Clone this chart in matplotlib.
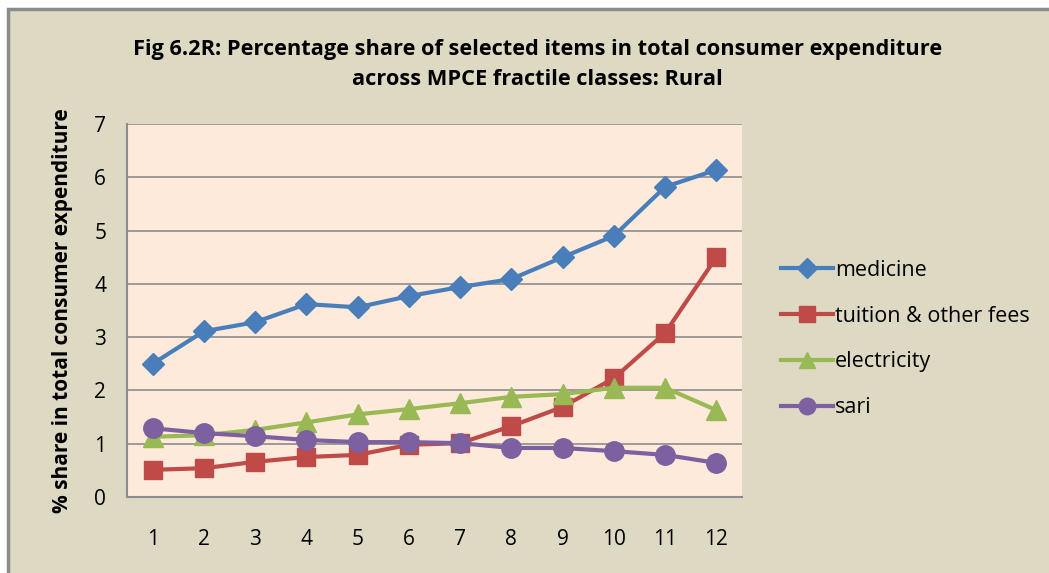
import matplotlib
matplotlib.use("Agg")
import matplotlib.pyplot as plt
from matplotlib.patches import Rectangle

plt.rcParams['font.family'] = ['Open Sans', 'DejaVu Sans']

# MPCE fractile classes
classes = [1, 2, 3, 4, 5, 6, 7, 8, 9, 10, 11, 12]

# % share in total consumer expenditure
medicine = [2.50, 3.11, 3.28, 3.62, 3.56, 3.77, 3.94, 4.09, 4.50, 4.90, 5.82, 6.14]
tuition = [0.51, 0.54, 0.66, 0.75, 0.79, 0.98, 1.01, 1.33, 1.69, 2.23, 3.08, 4.50]
electricity = [1.13, 1.16, 1.26, 1.40, 1.55, 1.65, 1.76, 1.88, 1.93, 2.05, 2.05, 1.63]
sari = [1.29, 1.20, 1.14, 1.07, 1.03, 1.03, 1.01, 0.92, 0.92, 0.86, 0.79, 0.64]

fig = plt.figure(figsize=(10.49, 5.73), dpi=100)
fig.patch.set_facecolor('white')
# chart area frame (Excel style), runs past the right and bottom edge
fig.patches.append(Rectangle((8 / 1049, -0.05), 1.1, 1 - 9 / 573 + 0.05,
                             transform=fig.transFigure, facecolor='#DDD9C3',
                             edgecolor='#8C8C8C', linewidth=2.5, zorder=-10))

ax = fig.add_axes([127 / 1049, 76 / 573, 615 / 1049, 373 / 573])
ax.set_facecolor('#FDEADA')

ax.plot(classes, medicine, color='#4A7EBB', lw=3, marker='D', ms=11.5, label='medicine')
ax.plot(classes, tuition, color='#BE4B48', lw=3, marker='s', ms=13, label='tuition & other fees')
ax.plot(classes, electricity, color='#98B954', lw=3, marker='^', ms=14, label='electricity')
ax.plot(classes, sari, color='#7D60A0', lw=3, marker='o', ms=14, label='sari')

ax.set_xlim(0.5, 12.5)
ax.set_ylim(0, 7)
ax.set_xticks(classes)
ax.set_yticks(range(0, 8))
ax.tick_params(length=0, labelsize=15)
ax.tick_params(axis='x', pad=23)
ax.tick_params(axis='y', pad=15)
ax.yaxis.grid(True, color='#8C8C8C', lw=1.2)
ax.set_axisbelow(True)
for s in ['top', 'right']:
    ax.spines[s].set_visible(False)
for s in ['left', 'bottom']:
    ax.spines[s].set_color('#8C8C8C')
    ax.spines[s].set_linewidth(1.5)

ax.set_ylabel('% share in total consumer expenditure', fontsize=15,
              fontweight='bold', labelpad=15)

fig.text(0.512, 0.914, 'Fig 6.2R: Percentage share of selected items in total consumer expenditure',
         ha='center', va='center', fontsize=15.7, fontweight='bold')
fig.text(0.512, 0.862, 'across MPCE fractile classes: Rural',
         ha='center', va='center', fontsize=15.7, fontweight='bold')

fig.legend(loc='center left', bbox_to_anchor=(762 / 1049, 1 - 339 / 573), frameon=False,
           fontsize=15.5, handlelength=2.4, handletextpad=0.1, labelspacing=1.15,
           markerscale=0.85)

fig.savefig('out.png', dpi=100, facecolor=fig.get_facecolor())
